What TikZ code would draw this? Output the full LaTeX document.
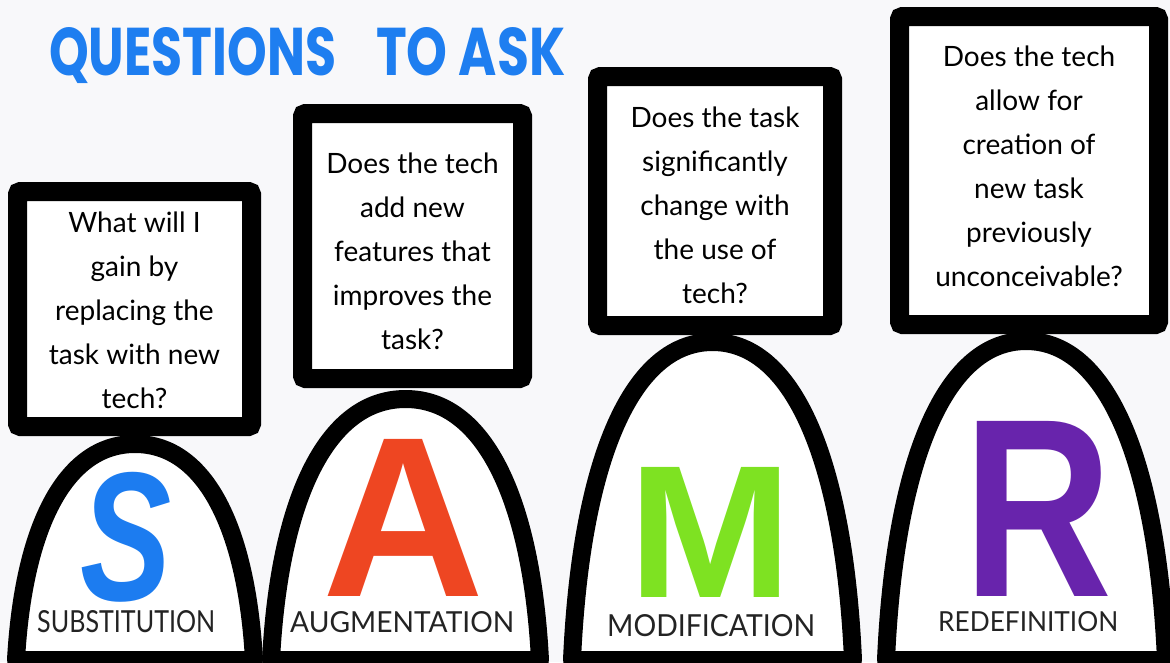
\documentclass[tikz,border=0pt]{standalone}
\usepackage{fontspec}
\usepackage{graphicx}
\setmainfont{Lato}
\newfontfamily\titlefont{Poppins}
\newfontfamily\letterfont{Liberation Sans}
\newfontfamily\labfont{Lato}
\definecolor{bg}{RGB}{248,248,250}
\definecolor{titleblue}{RGB}{30,126,240}
\definecolor{sblue}{RGB}{28,124,240}
\definecolor{ared}{RGB}{238,70,34}
\definecolor{mgreen}{RGB}{126,226,34}
\definecolor{rpurple}{RGB}{104,36,172}
\definecolor{labgray}{RGB}{35,35,35}
\newcommand\archshape[4]{% #1 xc, #2 half width, #3 apex y, #4 base y
  \draw[archline] ({#1-#2},#4) .. controls ({#1-0.94*#2},{#4-0.6*(#4-#3)}) and ({#1-0.6*#2},#3) .. (#1,#3)
    .. controls ({#1+0.6*#2},#3) and ({#1+0.94*#2},{#4-0.6*(#4-#3)}) .. ({#1+#2},#4) -- cycle;}
\tikzset{
  archline/.style={draw=black, fill=white, line width=18pt, line join=round},
  qbox/.style={draw=black, fill=white, line width=19pt, rounded corners=3pt, inner sep=0pt},
  qtext/.style={align=center, inner sep=0pt, font=\fontsize{28}{44}\selectfont, text=black},
  bigletter/.style={anchor=south west, inner sep=0pt},
  lab/.style={anchor=south west, inner sep=0pt, text=labgray}
}
\begin{document}
\begin{tikzpicture}[x=1pt,y=-1pt]
\fill[bg] (0,0) rectangle (1170,662);
\useasboundingbox (0,0) rectangle (1170,662);
% title
\node[anchor=base west, inner sep=0pt, text=titleblue] (t1) at (49,75)
  {\resizebox{287pt}{48pt}{\titlefont\bfseries QUESTIONS}};
\node[anchor=base west, inner sep=0pt, text=titleblue] (t2) at (376,75)
  {\resizebox{189pt}{48pt}{\titlefont\bfseries TO ASK}};
% arches
\archshape{135}{119}{444}{660}
\archshape{405.5}{134.5}{399}{660}
\archshape{712.5}{140.5}{342}{660}
\archshape{1026}{140}{341}{660}
% question boxes
\node[qbox, minimum width=234pt, minimum height=235pt] (qS) at (134.5,309) {};
\node[qbox, minimum width=220pt, minimum height=265pt] (qA) at (412.5,246) {};
\node[qbox, minimum width=235pt, minimum height=249pt] (qM) at (715,201) {};
\node[qbox, minimum width=259pt, minimum height=308pt] (qR) at (1029,170.5) {};
\node[qtext] (qSt) at (134.5,310.5)
  {What will I\\gain by\\replacing the\\task with new\\tech?};
\node[qtext] (qAt) at (412.5,251)
  {Does the tech\\add new\\features that\\improves the\\task?};
\node[qtext] (qMt) at (715,205.5)
  {Does the task\\significantly\\change with\\the use of\\tech?};
\node[qtext] (qRt) at (1029,166.5)
  {Does the tech\\allow for\\creation of\\new task\\previously\\unconceivable?};
% big letters
\node[bigletter, text=sblue] (LS) at (80,602)
  {\resizebox{91pt}{128pt}{\letterfont\bfseries\itshape S}};
\node[bigletter, text=ared] (LA) at (322,597)
  {\resizebox{162pt}{157pt}{\letterfont\bfseries A}};
\node[bigletter, text=mgreen] (LM) at (628,598)
  {\resizebox{164pt}{130pt}{\letterfont\bfseries M}};
\node[bigletter, text=rpurple] (LR) at (963,597)
  {\resizebox{149pt}{175pt}{\letterfont\bfseries R}};
% labels
\node[lab] (nS) at (37,633) {\resizebox{178pt}{22pt}{\labfont SUBSTITUTION}};
\node[lab] (nA) at (290,633) {\resizebox{224pt}{21pt}{\labfont AUGMENTATION}};
\node[lab] (nM) at (607,637) {\resizebox{208pt}{22pt}{\labfont MODIFICATION}};
\node[lab] (nR) at (938,632) {\resizebox{180pt}{20pt}{\labfont REDEFINITION}};
\end{tikzpicture}
\end{document}
